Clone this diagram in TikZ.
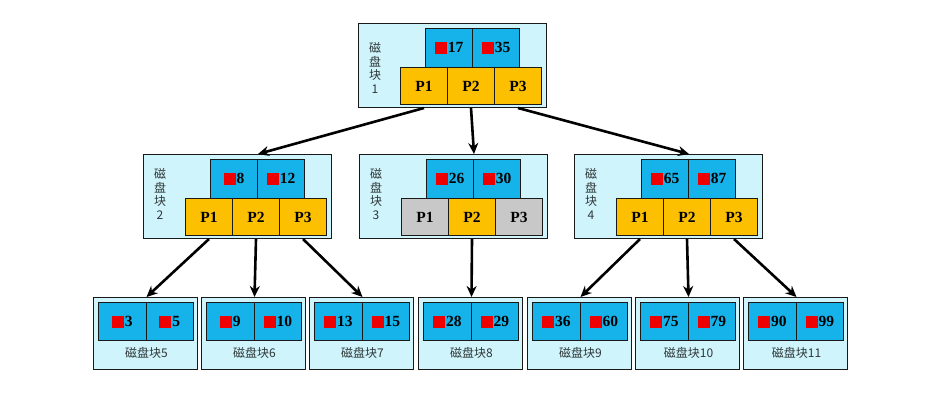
\documentclass[tikz,border=0pt]{standalone}
\usepackage{fontspec}
\setmainfont{Liberation Serif}
\newfontfamily\cjk{Noto Sans CJK SC}
\usetikzlibrary{calc, arrows.meta, positioning}

\definecolor{blkfill}{RGB}{208,244,252}
\definecolor{keyblue}{RGB}{22,178,234}
\definecolor{pgold}{RGB}{252,192,0}
\definecolor{pgrey}{RGB}{200,200,200}
\definecolor{markred}{RGB}{238,0,0}
\definecolor{lblgrey}{RGB}{45,55,55}

\newcommand{\redmark}{{\color{markred}\rule[-1.5pt]{12pt}{12pt}}\kern1pt}

\begin{document}
\begin{tikzpicture}[x=1pt, y=-1pt,
		blkbox/.style={draw=black!90, line width=1pt, fill=blkfill, anchor=north west, inner sep=0pt},
		keycell/.style={draw=black!90, line width=1pt, fill=keyblue, minimum width=47pt, minimum height=39pt,
			anchor=north west, inner sep=0pt, font=\fontsize{15.5}{15.5}\selectfont\bfseries},
		pcell/.style={draw=black!90, line width=1pt, minimum width=47pt, minimum height=37pt,
			anchor=north west, inner sep=0pt, font=\fontsize{15.5}{15.5}\selectfont\bfseries},
		blklabel/.style={text=lblgrey, font=\cjk\fontsize{12}{13.5}\selectfont, align=center, inner sep=0pt},
		link/.style={line width=2.6pt, -{Stealth[length=11pt, width=10pt]}},
	]
		\useasboundingbox (0,0) rectangle (933,402);
		
		% upper blocks: number / left / top / label drop / keys / colours of P1 and P3
		\foreach \n/\bx/\by/\ly/\ka/\kb/\pa/\pc in {1/358/23/45/17/35/pgold/pgold, 2/143/154/40/8/12/pgold/pgold,
			3/359/154/40/26/30/pgrey/pgrey, 4/574/154/40/65/87/pgold/pgold}{
			\node[blkbox, minimum width=188pt, minimum height=84pt] (b\n) at (\bx,\by) {};
			\node[blklabel] (b\n-lbl) at (\bx+17,\by+\ly) {磁\\盘\\块\\\n};
			\node[keycell] (b\n-k1) at (\bx+67,\by+5) {\redmark\ka};
			\node[keycell] (b\n-k2) at (\bx+114,\by+5) {\redmark\kb};
			\node[pcell, fill=\pa] (b\n-p1) at (\bx+42,\by+44) {P1};
			\node[pcell, fill=pgold] (b\n-p2) at (\bx+89,\by+44) {P2};
			\node[pcell, fill=\pc] (b\n-p3) at (\bx+136,\by+44) {P3};
		}
		
		% leaf blocks
		\foreach \n/\bx/\ka/\kb in {5/93/3/5, 6/201/9/10, 7/309/13/15, 8/418/28/29,
			9/527/36/60, 10/635/75/79, 11/743/90/99}{
			\node[blkbox, minimum width=104pt, minimum height=72pt] (c\n) at (\bx,297) {};
			\node[keycell, minimum width=47.5pt, minimum height=38pt] (c\n-k1) at (\bx+5,302) {\redmark\ka};
			\node[keycell, minimum width=47.5pt, minimum height=38pt] (c\n-k2) at (\bx+52.5,302) {\redmark\kb};
			\node[blklabel, anchor=north, below=6pt of c\n-k1.south east] (c\n-lbl) {磁盘块\n};
		}
		
		% pointers
		\draw[link] (b1-p1.south |- b1.south) -- (b2-k1.north east |- b2.north);
		\draw[link] (b1-p2.south |- b1.south) -- (b3-k1.north east |- b3.north);
		\draw[link] (b1-p3.south |- b1.south) -- (b4-k1.north east |- b4.north);
		
		\draw[link] (b2-p1.south |- b2.south) -- (c5-k1.north east |- c5.north);
		\draw[link] (b2-p2.south |- b2.south) -- (c6-k1.north east |- c6.north);
		\draw[link] (b2-p3.south |- b2.south) -- (c7-k1.north east |- c7.north);
		\draw[link] (b3-p2.south |- b3.south) -- (c8-k1.north east |- c8.north);
		\draw[link] (b4-p1.south |- b4.south) -- (c9-k1.north east |- c9.north);
		\draw[link] (b4-p2.south |- b4.south) -- (c10-k1.north east |- c10.north);
		\draw[link] (b4-p3.south |- b4.south) -- (c11-k1.north east |- c11.north);
		
	\end{tikzpicture}
\end{document}
